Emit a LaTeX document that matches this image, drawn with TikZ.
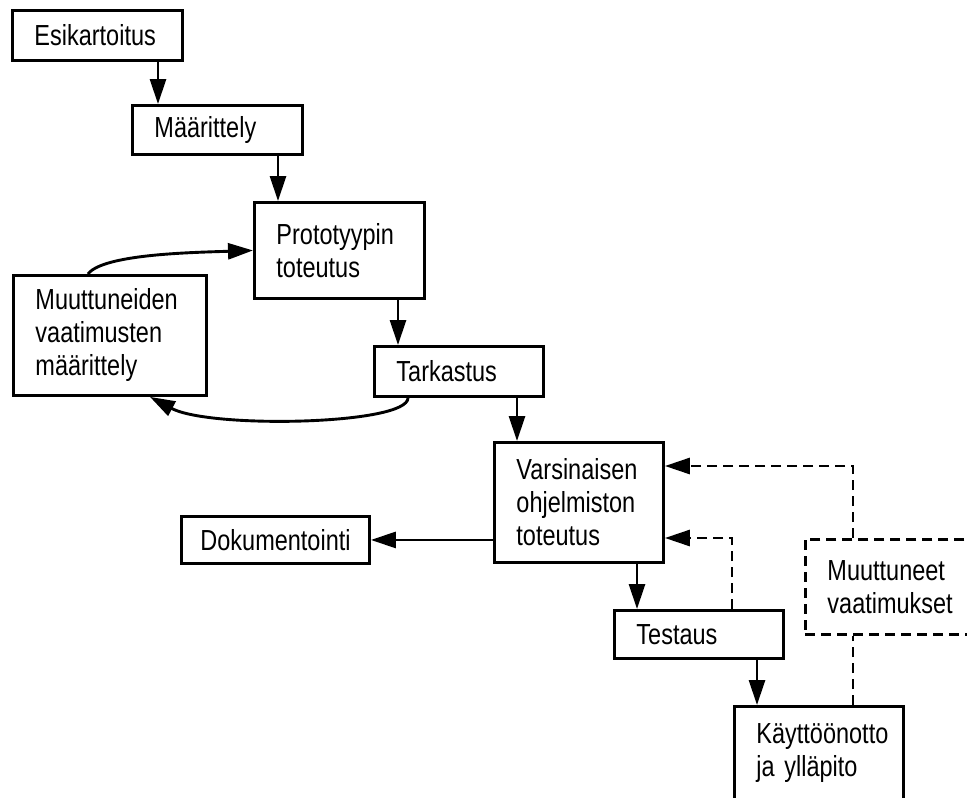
\documentclass[tikz,border=0pt]{standalone}
\usepackage{fontspec}
\setmainfont{Liberation Sans}[FakeStretch=0.81]
\usetikzlibrary{arrows.meta}
\hyphenpenalty=10000
\exhyphenpenalty=10000

\begin{document}
\begin{tikzpicture}[x=1pt, y=-1pt,
  box/.style={draw, line width=2.9pt, rectangle, anchor=north west,
    inner xsep=22pt, inner ysep=0pt, align=left,
    font=\fontsize{29}{33}\selectfont},
  dbox/.style={box, dash pattern=on 10pt off 6pt},
  arr/.style={line width=2.9pt, -{Triangle[length=25pt, width=16pt]}},
  darr/.style={arr, dash pattern=on 10pt off 6pt},
  dline/.style={line width=2.9pt, dash pattern=on 10pt off 6pt}]

  \useasboundingbox (0,0) rectangle (967,798);
  \fill[white] (0,0) rectangle (967,798);
  \clip (0,0) rectangle (967,798);

  % process boxes
  \node[box, minimum width=170pt, minimum height=50pt, text width=126pt] (esik) at (11,9) {Esikartoitus};
  \node[box, minimum width=170pt, minimum height=49pt, text width=126pt] (maar) at (131,104) {Määrittely};
  \node[box, minimum width=170pt, minimum height=96pt, text width=126pt] (proto) at (253,201) {Prototyypin\\toteutus};
  \node[box, minimum width=193pt, minimum height=120pt, text width=149pt] (muut) at (12,274) {Muuttuneiden\\vaatimusten\\määrittely};
  \node[box, minimum width=169pt, minimum height=50pt, text width=125pt] (tark) at (373,345) {Tarkastus};
  \node[box, minimum width=169pt, minimum height=120pt, text width=125pt] (vars) at (493,441) {Varsinaisen\\ohjelmiston\\toteutus};
  \node[box, minimum width=188pt, minimum height=47pt, text width=150pt, inner xsep=19pt] (doku) at (180,515) {Dokumentointi};
  \node[box, minimum width=169pt, minimum height=48pt, text width=125pt] (test) at (613,609) {Testaus};
  \node[box, minimum width=169pt, minimum height=120pt, text width=125pt] (kayt) at (733,705) {Käyttöönotto\\ja ylläpito\\\mbox{}};
  \node[dbox, minimum width=200pt, minimum height=95pt, text width=156pt] (muutv) at (804,538) {Muuttuneet\\vaatimukset};

  % connector columns and rows
  \coordinate (c0) at (88,0);
  \coordinate (c1) at (158,0);
  \coordinate (c2) at (278,0);
  \coordinate (c3) at (398,0);
  \coordinate (c4) at (517,0);
  \coordinate (c5) at (637,0);
  \coordinate (c6) at (757,0);
  \coordinate (c7) at (853,0);
  \coordinate (c8) at (732,0);
  \coordinate (c9) at (150,0);
  \coordinate (c10) at (408,0);
  \coordinate (r1) at (0,466);
  \coordinate (r2) at (0,538);

  % main flow
  \draw[arr] (esik.south -| c1) -- (maar.north -| c1);
  \draw[arr] (maar.south -| c2) -- (proto.north -| c2);
  \draw[arr] (proto.south -| c3) -- (tark.north -| c3);
  \draw[arr] (tark.south -| c4) -- (vars.north -| c4);
  \draw[arr] (vars.south -| c5) -- (test.north -| c5);
  \draw[arr] (test.south -| c6) -- (kayt.north -| c6);
  \draw[arr] (vars.west |- doku.east) -- (doku.east);

  % prototype iteration loop
  \draw[arr] (muut.north -| c0) .. controls +(15,-20) and +(-60,2) .. (proto.west);
  \draw[arr] (tark.south -| c10) .. controls +(0,27) and +(60,32) .. (muut.south -| c9);

  % feedback of changed requirements
  \draw[darr] (muutv.north -| c7) |- (r1 -| vars.east);
  \draw[darr] (test.north -| c8) |- (r2 -| vars.east);
  \draw[dline] (kayt.north -| c7) -- (muutv.south -| c7);
\end{tikzpicture}
\end{document}
